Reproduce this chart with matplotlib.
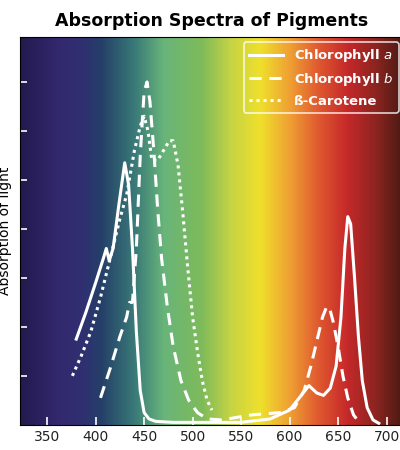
import numpy as np
import matplotlib.pyplot as plt
from matplotlib.colors import LinearSegmentedColormap

chl_a_nm = [380, 390, 400, 408, 411, 414, 418, 424, 430, 434, 438, 442, 446, 450, 455, 462, 480, 520, 550, 580, 600, 612, 620, 628, 635, 642, 648, 653, 657, 660, 663, 667, 671, 675, 680, 686, 692]
chl_a = [1.75, 2.3, 2.9, 3.4, 3.6, 3.35, 3.6, 4.5, 5.35, 4.9, 3.6, 1.9, 0.7, 0.25, 0.12, 0.07, 0.05, 0.05, 0.05, 0.12, 0.3, 0.6, 0.8, 0.65, 0.6, 0.75, 1.2, 2.2, 3.6, 4.25, 4.1, 3.0, 1.8, 0.9, 0.35, 0.1, 0.03]

chl_b_nm = [405, 415, 425, 432, 435, 438, 442, 446, 450, 453, 456, 460, 464, 468, 474, 480, 488, 496, 505, 515, 530, 560, 590, 605, 615, 622, 628, 634, 638, 641, 645, 650, 655, 660, 666, 672]
chl_b = [0.55, 1.15, 1.8, 2.2, 2.5, 2.5, 3.6, 5.5, 6.8, 7.0, 6.6, 5.6, 4.4, 3.4, 2.4, 1.6, 0.9, 0.5, 0.25, 0.12, 0.1, 0.2, 0.25, 0.35, 0.7, 1.2, 1.7, 2.2, 2.4, 2.4, 2.1, 1.6, 1.0, 0.55, 0.2, 0.05]

car_nm = [376, 385, 395, 405, 415, 425, 432, 440, 446, 450, 454, 458, 464, 470, 476, 480, 485, 490, 495, 500, 505, 510, 515, 520]
car = [1.0, 1.4, 1.9, 2.6, 3.4, 4.2, 4.7, 5.6, 6.1, 6.3, 6.0, 5.4, 5.4, 5.6, 5.8, 5.8, 5.3, 4.3, 3.2, 2.2, 1.5, 0.9, 0.5, 0.3]

spec_nm = [322, 360, 385, 405, 440, 470, 510, 540, 570, 600, 630, 660, 690, 718]
spec_col = ['#231a4e', '#33286e', '#302f72', '#243f68', '#3a7a78', '#68b47a', '#7fbb5a', '#c6d444',
            '#efe02c', '#efa233', '#e05a30', '#c6292a', '#8c2420', '#4a1a14']

fig = plt.figure(figsize=(4, 4.5), dpi=100)
ax = fig.add_axes([0.05, 0.056, 0.96, 0.862])
x0, x1, y1 = 322, 718, 7.92
pos = [(v - x0) / (x1 - x0) for v in spec_nm]
cmap = LinearSegmentedColormap.from_list('spec', list(zip(pos, spec_col)))
ax.imshow(np.linspace(0, 1, 400)[None, :], cmap=cmap, aspect='auto', extent=[x0, x1, 0, y1], zorder=0)

ax.plot(chl_a_nm, chl_a, color='white', lw=2.2, label='Chlorophyll $\\mathit{a}$')
ax.plot(chl_b_nm, chl_b, color='white', lw=2.2, ls=(0, (4, 2.5)), label='Chlorophyll $\\mathit{b}$')
ax.plot(car_nm, car, color='white', lw=2.2, ls=(0, (1, 1.3)), label='ß-Carotene')

ax.set_xlim(x0, x1)
ax.set_ylim(0, y1)
ax.set_xticks([350, 400, 450, 500, 550, 600, 650, 700])
ax.set_yticks(range(1, 8))
ax.set_yticklabels([])
ax.tick_params(axis='y', direction='in', colors='white', length=5, width=1.2)
ax.tick_params(axis='x', direction='in', colors='white', length=6, width=1.2, labelcolor='#222222', labelsize=10)
ax.set_ylabel('Absorption of light', fontsize=10, labelpad=2)
ax.set_title('Absorption Spectra of Pigments', fontweight='bold', fontsize=12.5, pad=8)

leg = ax.legend(loc='upper right', frameon=True, fontsize=9.5, handlelength=2.6, borderaxespad=0.4)
leg.get_frame().set_facecolor('none')
leg.get_frame().set_edgecolor('white')
leg.get_frame().set_linewidth(1.2)
for t in leg.get_texts():
    t.set_color('white')
    t.set_fontweight('bold')

fig.savefig('out.png')
